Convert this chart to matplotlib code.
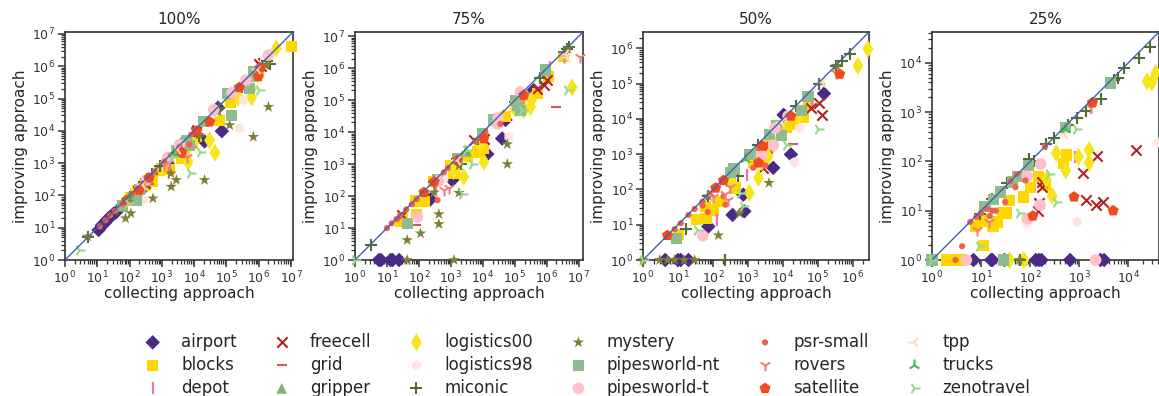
import matplotlib
matplotlib.use("Agg")
import matplotlib.pyplot as plt
import seaborn as sns
from matplotlib.ticker import LogLocator, NullFormatter

sns.set_theme(style="ticks")
plt.rcParams["font.family"] = ["DejaVu Sans"]

titles = ["100%", "75%", "50%", "25%"]
axis_max = [1.15e7, 1.35e7, 2.9e6, 4.2e4]

domains = ["airport", "blocks", "depot", "freecell", "grid", "gripper",
           "logistics00", "logistics98", "miconic", "mystery", "pipesworld-nt",
           "pipesworld-t", "psr-small", "rovers", "satellite", "tpp", "trucks",
           "zenotravel"]

# ---------------- 100% ----------------
p100_airport = [(11, 8.5), (14, 12), (17, 14), (20, 17), (23, 20), (27, 23), (32, 27), (38, 30),
                (300, 190), (1500, 1000), (21000, 4700), (72000, 9800), (55000, 52000), (4800, 4500)]
p100_blocks = [(100, 70), (110, 85), (150, 110), (180, 140), (850, 600), (1000, 700), (1700, 650),
               (4000, 1400), (5000, 2000), (9000, 4200), (12000, 6500), (62000, 21000), (130000, 75000),
               (850000, 480000), (1000000, 650000), (1.05e7, 4e6), (500, 280), (300, 200)]
p100_depot = [(400, 300), (1700, 480), (5500, 1600), (1800, 900), (11000, 4500), (300, 180)]
p100_freecell = [(12000, 10500), (1.0e6, 1.2e6), (1.2e6, 1.0e6), (1.4e6, 1.3e6), (300, 250), (11000, 9000)]
p100_grid = [(5200, 1500), (400, 220)]
p100_gripper = [(2500, 2200), (60, 45)]
p100_logistics00 = [(3.5e6, 3.6e6), (6e5, 1.1e5), (2.3e5, 1.1e5), (30000, 5100), (44000, 2100),
                    (6500, 1100), (12000, 6000), (120, 90), (1000, 700), (600000, 200000)]
p100_logistics98 = [(2.6e5, 12000), (3.3e5, 89000), (260, 72), (3600, 3000), (40000, 35000),
                    (1.5e6, 1.5e6), (2e6, 2.2e6)]
p100_miconic = [(5, 5.3), (40, 35), (200, 180), (900, 800), (3000, 2800), (14000, 7000), (60000, 50000),
                (3e5, 2.2e5), (1.8e6, 1.5e6), (2.2e6, 1.2e6), (100, 90), (500, 450)]
p100_mystery = [(5, 5.3), (50, 40), (75, 19.5), (110, 28), (530, 81), (1950, 186), (2800, 300),
                (1900, 480), (21000, 300), (1.26e5, 15000), (6.8e5, 6500), (2e6, 55000),
                (1.7e6, 1.1e6), (3.3e5, 2.2e5), (330, 210), (14000, 7500), (55000, 40000)]
p100_pipesworld_nt = [(160, 72), (2800, 2500), (5700, 5100), (19000, 19000), (1.4e5, 30000),
                      (6.8e5, 6.6e5), (5.3e5, 2e5), (1.1e5, 1.4e5), (60, 50), (200, 150), (7000, 3500),
                      (700000, 500000)]
p100_pipesworld_t = [(1500, 1500), (40000, 45000), (1.5e5, 1.5e5), (4e5, 3.7e5), (2e6, 2.2e6),
                     (330, 300), (3500, 3700)]
p100_psr_small = [(12, 11), (18, 17), (25, 24), (35, 33), (60, 55), (80, 75), (120, 110), (200, 180),
                  (350, 320), (600, 550), (1200, 1100), (2000, 1800), (7000, 3800), (3500, 3200),
                  (250, 230), (8000, 7500)]
p100_rovers = [(6000, 1600), (420, 380), (1200, 900), (2000, 1700)]
p100_satellite = [(200, 146), (4000, 2200), (30000, 19000), (9.6e5, 4.9e5), (1.1e6, 9e5),
                  (2.5e5, 2.2e5), (80, 70), (400, 350), (12000, 10000)]
p100_tpp = [(3000, 2800), (250, 230), (9e5, 8e5)]
p100_trucks = [(2200, 2000), (90, 85)]
p100_zenotravel = [(2.8, 2), (15000, 2200), (7200, 480), (1e6, 1.8e5), (90, 60), (2000, 1500)]

# ---------------- 75% ----------------
p75_airport = [(5.6, 1), (6.5, 1), (13, 1), (15, 1), (24, 1), (230, 79), (1100, 316), (13700, 2050),
               (40000, 6300), (51000, 24000), (3.9e5, 2.05e5), (45000, 30000)]
p75_blocks = [(27, 16), (85, 26), (143, 66), (295, 280), (1240, 510), (3200, 1700), (6700, 2400),
              (10600, 3000), (51000, 30000), (1.5e5, 1e5), (5e5, 1.6e5), (1.1e6, 5.6e5), (3.4e6, 2.3e6),
              (80, 70), (30, 20), (1000, 900)]
p75_depot = [(1.2e6, 7.8e5), (350, 200), (1.3e6, 1.1e6)]
p75_freecell = [(5200, 5600), (10600, 6300), (5e5, 2.3e5), (1e6, 4.2e5), (8e5, 3e5), (30, 25)]
p75_grid = [(1.9e6, 62000), (79, 12)]
p75_gripper = [(3000, 2500)]
p75_logistics00 = [(6.2e6, 2.5e5), (3.1e5, 62000), (1.9e5, 48000), (10700, 1180), (2500, 400),
                   (3.3e5, 1e5), (1200, 600), (8000, 4000), (1e5, 55000)]
p75_logistics98 = [(65000, 7100), (89, 20), (28000, 21000), (600, 350)]
p75_miconic = [(3.1, 3), (300, 280), (2000, 1000), (7000, 6000), (1e5, 9e4), (6e5, 5e5),
               (3.5e6, 3.3e6), (5e6, 4.6e6), (1500, 1400), (4.2e6, 3.9e6)]
p75_mystery = [(43, 4.2), (112, 6.8), (420, 13.3), (420, 27), (1780, 126), (1250, 1), (58000, 1000),
               (58000, 4200), (3.4e6, 2.9e6), (43, 1), (1800, 900), (300, 130), (4.5e6, 4e6)]
p75_pipesworld_nt = [(43, 14), (380, 320), (1600, 1500), (9500, 9100), (22000, 24000), (1.05e5, 1e5),
                     (1.5e5, 48000), (9e5, 8.7e5), (1.2e5, 70000)]
p75_pipesworld_t = [(89, 22), (28000, 18000), (1.5e5, 1.8e5), (400, 300), (30000, 28000)]
p75_psr_small = [(10, 10), (14, 14), (20, 19), (26, 25), (40, 38), (60, 55), (85, 80), (150, 140),
                 (300, 280), (600, 550), (1500, 1300), (6000, 5000), (12000, 10000), (35000, 18000),
                 (380, 74), (800, 750)]
p75_rovers = [(600, 155), (870, 175), (3.4e6, 2.3e6), (1.1e7, 2.3e6), (1.8e5, 1.2e5)]
p75_satellite = [(143, 130), (1580, 1330), (10700, 6300), (1.9e5, 1.43e5), (300, 280)]
p75_tpp = [(4e6, 2.3e6), (1500, 1300), (3.6e6, 2.8e6)]
p75_trucks = [(2800, 2500)]
p75_zenotravel = [(4.3e6, 2.05e5), (2250, 120), (4700, 1000), (1.7e5, 48000), (1, 1), (3000, 2800)]

# ---------------- 50% ----------------
p50_airport = [(4.3, 1), (10, 1), (12, 1), (20, 1), (74, 8.9), (365, 19), (790, 24), (740, 71),
               (5300, 410), (17000, 980), (1.5e5, 52000), (10500, 13000)]
p50_blocks = [(10.4, 5.2), (34, 14), (63, 15.4), (60, 33), (103, 26), (160, 46), (430, 110), (310, 170),
              (1420, 570), (4200, 1700), (12700, 5600), (19500, 7000), (38000, 11000), (55000, 24000),
              (2000, 900), (3000, 1500)]
p50_depot = [(128, 14), (920, 265), (3800, 1700), (70000, 33000)]
p50_freecell = [(2630, 410), (3400, 1500), (63000, 20000), (1.05e5, 29000), (1.35e5, 12600), (3000, 1800)]
p50_grid = [(19500, 2000)]
p50_gripper = [(400, 380)]
p50_logistics00 = [(2.7e6, 9.6e5), (1.4e6, 3.2e5), (2000, 213), (1100, 80), (3800, 870), (27000, 11000),
                   (330, 150), (5000, 2500), (2500, 600)]
p50_logistics98 = [(21000, 590), (30000, 5400)]
p50_miconic = [(17, 7.5), (530, 245), (1900, 1800), (1, 1), (222, 1), (24000, 23000), (1.1e5, 1e5),
               (3.4e5, 3.2e5), (8.3e5, 7e5), (5e5, 4.5e5), (70, 65)]
p50_mystery = [(1, 1), (3, 1), (5, 1), (8, 1), (15, 1), (30, 1), (143, 5), (570, 21), (4000, 153),
               (74, 64), (3.4e5, 3.2e5)]
p50_pipesworld_nt = [(9.3, 4), (310, 300), (1140, 980), (4200, 3650), (9100, 3400), (6600, 6300),
                     (34000, 17000), (52000, 44000), (400, 400)]
p50_pipesworld_t = [(51, 4.8), (2450, 940), (5300, 1800), (14000, 12000), (6000, 5500)]
p50_psr_small = [(5, 5.2), (8, 7.5), (12, 11), (20, 19), (30, 28), (50, 45), (80, 75), (130, 120),
                 (180, 170), (71, 23), (230, 37), (200, 64), (1420, 410), (3100, 480), (2000, 1500),
                 (50, 35)]
p50_rovers = [(220, 74), (275, 51), (100, 60), (3.4e5, 2e5), (300, 120)]
p50_satellite = [(5, 5), (200, 180), (2000, 570), (2630, 1700), (17000, 12000), (4.2e5, 1.86e5),
                 (120, 110)]
p50_tpp = [(1.35e5, 1.1e5), (9000, 8000)]
p50_trucks = [(800, 750)]
p50_zenotravel = [(34, 7.2), (740, 35), (1e5, 5000), (12000, 1780), (1, 1), (600, 80)]

# ---------------- 25% ----------------
p25_airport = [(7, 1), (16, 1), (17, 1), (30, 1), (130, 1), (150, 1), (170, 1), (650, 1), (2700, 1),
               (3200, 1)]
p25_blocks = [(2, 1), (3.2, 1), (4, 1), (11, 1.94), (7.6, 4.9), (10.5, 6.7), (17.5, 4.9), (21, 5.9),
              (27, 9), (32, 9), (72, 19), (100, 30), (150, 50), (205, 33), (37, 16), (470, 91),
              (550, 135), (10, 6)]
p25_depot = [(800, 120), (1700, 1200)]
p25_freecell = [(175, 38), (150, 14), (145, 10), (1180, 59), (2300, 130), (1350, 16.6), (2150, 13),
                (3050, 15), (14000, 170), (170, 30)]
p25_grid = [(90, 85)]
p25_gripper = [(70, 1)]
p25_logistics00 = [(340, 147), (530, 65), (960, 124), (1580, 170), (1580, 94), (280, 20), (215, 43),
                   (24000, 4200), (36000, 6200), (30000, 4000), (38, 1), (74, 1)]
p25_logistics98 = [(910, 5.9), (42000, 240), (87, 5.6)]
p25_miconic = [(1, 1), (9.7, 8.7), (17, 17), (34, 36), (94, 110), (205, 224), (300, 300), (910, 770),
               (1350, 1050), (2750, 1800), (6000, 5000), (8200, 7800), (16500, 12400), (28000, 21000),
               (61, 1), (120, 100), (600, 550), (5000, 4500)]
p25_mystery = [(60, 1)]
p25_pipesworld_nt = [(1, 1), (12, 12), (18, 17), (25, 24), (43, 38), (55, 50), (94, 81), (530, 480),
                     (4400, 3900), (29, 1)]
p25_pipesworld_t = [(5, 1), (163, 89), (87, 50), (158, 13), (87, 6.9), (2150, 1)]
p25_psr_small = [(6, 5.9), (8, 7.5), (10, 9), (13, 11), (15, 7.8), (17, 10), (20, 10), (31, 15),
                 (50, 30), (80, 41), (4.1, 1.9), (1700, 1400), (54, 55), (200, 200), (3, 1), (40, 40)]
p25_rovers = [(8.3, 4), (14.5, 5.9), (1700, 1250)]
p25_satellite = [(113, 7.8), (780, 19), (4900, 10), (1850, 1550)]
p25_tpp = [(490, 355)]
p25_trucks = [(500, 460)]
p25_zenotravel = [(8.9, 1.9), (59, 9), (330, 15), (240, 55), (850, 450), (1, 1)]

panels = [
    [p100_airport, p100_blocks, p100_depot, p100_freecell, p100_grid, p100_gripper, p100_logistics00,
     p100_logistics98, p100_miconic, p100_mystery, p100_pipesworld_nt, p100_pipesworld_t,
     p100_psr_small, p100_rovers, p100_satellite, p100_tpp, p100_trucks, p100_zenotravel],
    [p75_airport, p75_blocks, p75_depot, p75_freecell, p75_grid, p75_gripper, p75_logistics00,
     p75_logistics98, p75_miconic, p75_mystery, p75_pipesworld_nt, p75_pipesworld_t,
     p75_psr_small, p75_rovers, p75_satellite, p75_tpp, p75_trucks, p75_zenotravel],
    [p50_airport, p50_blocks, p50_depot, p50_freecell, p50_grid, p50_gripper, p50_logistics00,
     p50_logistics98, p50_miconic, p50_mystery, p50_pipesworld_nt, p50_pipesworld_t,
     p50_psr_small, p50_rovers, p50_satellite, p50_tpp, p50_trucks, p50_zenotravel],
    [p25_airport, p25_blocks, p25_depot, p25_freecell, p25_grid, p25_gripper, p25_logistics00,
     p25_logistics98, p25_miconic, p25_mystery, p25_pipesworld_nt, p25_pipesworld_t,
     p25_psr_small, p25_rovers, p25_satellite, p25_tpp, p25_trucks, p25_zenotravel],
]

styles = {
    "airport": dict(marker="D", color="#4a2a85", s=55),
    "blocks": dict(marker="s", color="#ffd700", s=65),
    "depot": dict(marker="|", color="#ff69b4", s=70, lw=1.5),
    "freecell": dict(marker="x", color="#b22222", s=55, lw=1.5),
    "grid": dict(marker="_", color="#cd5c5c", s=60, lw=1.5),
    "gripper": dict(marker="^", color="#86b07a", s=60),
    "logistics00": dict(marker="d", color="#f5e51a", s=85),
    "logistics98": dict(marker="h", color="#ffe4e1", s=55),
    "miconic": dict(marker="+", color="#556b2f", s=65, lw=1.5),
    "mystery": dict(marker="*", color="#7f7f32", s=75),
    "pipesworld-nt": dict(marker="s", color="#8fbc8f", s=65),
    "pipesworld-t": dict(marker="o", color="#ffc0cb", s=70),
    "psr-small": dict(marker=".", color="#f06050", s=80),
    "rovers": dict(marker="1", color="#f08080", s=75, lw=1.5),
    "satellite": dict(marker="p", color="#f24a1e", s=70),
    "tpp": dict(marker="3", color="#ffdab9", s=75, lw=1.5),
    "trucks": dict(marker="2", color="#4cb84c", s=75, lw=1.5),
    "zenotravel": dict(marker="4", color="#98d98e", s=75, lw=1.5),
}

fig = plt.figure(figsize=(11.59, 3.96), dpi=100)
W, H = 1159, 396
lefts = [65, 355, 643, 932]
widths = [228, 228, 226, 227]
handles = []
for i, (left, w) in enumerate(zip(lefts, widths)):
    ax = fig.add_axes([left / W, (H - 260) / H, w / W, 228 / H])
    ax.set_xscale("log")
    ax.set_yscale("log")
    m = axis_max[i]
    for dom, pts in zip(domains, panels[i]):
        st = styles[dom]
        xs = [p[0] for p in pts]
        ys = [p[1] for p in pts]
        filled = st["marker"] not in ("|", "x", "_", "+", "1", "2", "3", "4")
        kw = dict(marker=st["marker"], s=st["s"], label=dom, clip_on=False, zorder=3)
        if filled:
            kw.update(color=st["color"], edgecolors="none")
        else:
            kw.update(color=st["color"], linewidths=st.get("lw", 1.5))
        sc = ax.scatter(xs, ys, **kw)
        if i == 0:
            handles.append(sc)
    ax.plot([1, m], [1, m], color="#4060b0", lw=1.0, zorder=4)
    ax.set_xlim(1, m)
    ax.set_ylim(1, m)
    ax.xaxis.set_major_locator(LogLocator(base=10, numticks=15))
    ax.yaxis.set_major_locator(LogLocator(base=10, numticks=15))
    ax.xaxis.set_minor_locator(LogLocator(base=10, subs=range(2, 10), numticks=15))
    ax.yaxis.set_minor_locator(LogLocator(base=10, subs=range(2, 10), numticks=15))
    ax.xaxis.set_minor_formatter(NullFormatter())
    ax.yaxis.set_minor_formatter(NullFormatter())
    ax.tick_params(which="major", labelsize=9, length=5, width=1.1, pad=2, colors="#333333")
    ax.tick_params(which="minor", length=3, width=0.9, colors="#333333")
    ax.set_title(titles[i], fontsize=11, pad=6)
    ax.set_xlabel("collecting approach", fontsize=11, labelpad=0)
    ax.set_ylabel("improving approach", fontsize=11, labelpad=3)
    for sp in ax.spines.values():
        sp.set_linewidth(1.2)
        sp.set_color("#333333")

fig.legend(handles=handles, loc="upper center", bbox_to_anchor=(0.503, 0.185), ncol=6,
           frameon=False, fontsize=12, handletextpad=0.7, columnspacing=1.7,
           labelspacing=0.3, scatterpoints=1, borderaxespad=0.2)
fig.savefig("out.png", dpi=100)
